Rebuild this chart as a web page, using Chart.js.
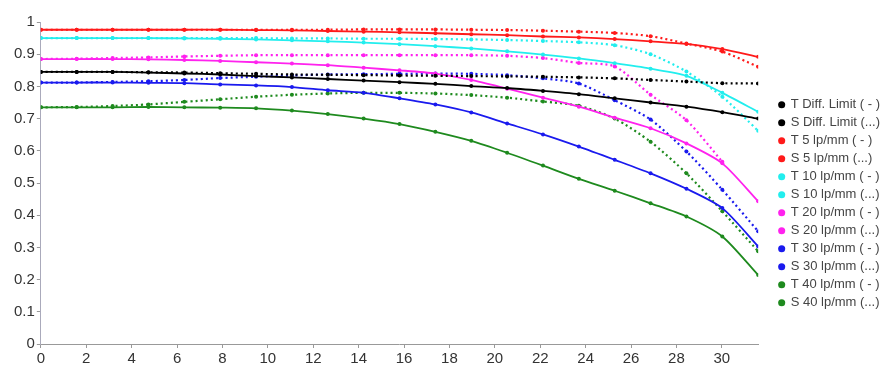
<!DOCTYPE html>
<html>
<head>
<meta charset="utf-8">
<script src="https://cdn.jsdelivr.net/npm/chart.js@4/dist/chart.umd.min.js"></script>
<style>
  html, body { margin: 0; padding: 0; background: #fff; }
  .chart-box { width: 890px; height: 378px; position: relative; }
</style>
</head>
<body>
<div class="chart-box"><canvas id="mtf-chart"></canvas></div>
<script>
// field position (mm)
const fieldPos = [0, 1.58, 3.16, 4.74, 6.32, 7.9, 9.48, 11.06, 12.64, 14.22, 15.8, 17.38, 18.96, 20.54, 22.12, 23.7, 25.28, 26.86, 28.44, 30.02, 31.6];
const xTicks = [0, 2, 4, 6, 8, 10, 12, 14, 16, 18, 20, 22, 24, 26, 28, 30];

const tDiff = [0.845, 0.845, 0.845, 0.843, 0.84, 0.837, 0.832, 0.828, 0.823, 0.818, 0.813, 0.808, 0.801, 0.795, 0.786, 0.776, 0.763, 0.75, 0.737, 0.72, 0.7];
const sDiff = [0.845, 0.845, 0.845, 0.844, 0.843, 0.841, 0.839, 0.837, 0.836, 0.835, 0.834, 0.833, 0.832, 0.831, 0.83, 0.828, 0.825, 0.82, 0.815, 0.81, 0.809];
const t5 = [0.976, 0.976, 0.976, 0.976, 0.976, 0.976, 0.975, 0.974, 0.972, 0.97, 0.968, 0.965, 0.962, 0.959, 0.955, 0.952, 0.947, 0.94, 0.932, 0.916, 0.892];
const s5 = [0.976, 0.976, 0.976, 0.976, 0.976, 0.976, 0.976, 0.976, 0.976, 0.977, 0.977, 0.977, 0.976, 0.975, 0.973, 0.97, 0.966, 0.956, 0.933, 0.908, 0.861];
const t10 = [0.95, 0.95, 0.95, 0.95, 0.949, 0.948, 0.946, 0.943, 0.94, 0.936, 0.931, 0.925, 0.918, 0.909, 0.899, 0.887, 0.872, 0.855, 0.833, 0.78, 0.721];
const s10 = [0.95, 0.95, 0.95, 0.95, 0.95, 0.95, 0.95, 0.949, 0.949, 0.948, 0.948, 0.947, 0.946, 0.944, 0.941, 0.937, 0.928, 0.9, 0.846, 0.768, 0.662];
const t20 = [0.885, 0.885, 0.885, 0.884, 0.882, 0.879, 0.875, 0.871, 0.866, 0.858, 0.85, 0.84, 0.82, 0.793, 0.765, 0.737, 0.703, 0.67, 0.623, 0.561, 0.443];
const s20 = [0.885, 0.886, 0.888, 0.89, 0.893, 0.895, 0.897, 0.897, 0.897, 0.897, 0.897, 0.897, 0.897, 0.895, 0.888, 0.873, 0.862, 0.774, 0.695, 0.566, null];
const t30 = [0.812, 0.812, 0.812, 0.811, 0.81, 0.806, 0.803, 0.798, 0.788, 0.78, 0.763, 0.744, 0.719, 0.685, 0.651, 0.613, 0.572, 0.53, 0.482, 0.422, 0.303];
const s30 = [0.812, 0.812, 0.814, 0.816, 0.82, 0.826, 0.83, 0.834, 0.837, 0.838, 0.839, 0.84, 0.839, 0.835, 0.825, 0.809, 0.757, 0.697, 0.598, 0.479, 0.35];
const t40 = [0.735, 0.735, 0.735, 0.736, 0.735, 0.734, 0.732, 0.725, 0.714, 0.7, 0.683, 0.659, 0.631, 0.594, 0.554, 0.513, 0.476, 0.437, 0.396, 0.334, 0.214];
const s40 = [0.735, 0.736, 0.739, 0.744, 0.752, 0.76, 0.768, 0.774, 0.778, 0.78, 0.78, 0.778, 0.773, 0.765, 0.753, 0.74, 0.7, 0.628, 0.53, 0.412, 0.288];

const seriesNames = [
  "T Diff. Limit ( - )", "S Diff. Limit (...)",
  "T 5 lp/mm ( - )", "S 5 lp/mm (...)",
  "T 10 lp/mm ( - )", "S 10 lp/mm (...)",
  "T 20 lp/mm ( - )", "S 20 lp/mm (...)",
  "T 30 lp/mm ( - )", "S 30 lp/mm (...)",
  "T 40 lp/mm ( - )", "S 40 lp/mm (...)",
];
const seriesValues = [tDiff, sDiff, t5, s5, t10, s10, t20, s20, t30, s30, t40, s40];
const seriesColors = ["#000000", "#000000", "#ff1a1a", "#ff1a1a", "#22eeee", "#22eeee", "#ff22ee", "#ff22ee", "#1a1aee", "#1a1aee", "#1e8a1e", "#1e8a1e"];

function toPoints(values) {
  return fieldPos.map((x, i) => ({ x: x, y: values[i] }));
}

const datasets = seriesNames.map((name, i) => {
  const dotted = i % 2 === 1;
  return {
    label: name,
    data: toPoints(seriesValues[i]),
    borderColor: seriesColors[i],
    backgroundColor: seriesColors[i],
    borderWidth: dotted ? 2.2 : 1.8,
    borderDash: dotted ? [2, 3] : [],
    pointRadius: 2,
    pointHoverRadius: 2,
    pointBorderWidth: 0,
    tension: 0.25,
    spanGaps: false,
  };
});

const axisFont = { family: "Arial, 'Liberation Sans'", size: 15 };

// 建圖
const ctx = document.getElementById("mtf-chart").getContext("2d");
const mtfChart = new Chart(ctx, {
  type: "line",
  data: { datasets: datasets },
  options: {
    responsive: true,
    maintainAspectRatio: false,
    animation: false,
    layout: { padding: { top: 22, right: 0, left: 12, bottom: 8 } },
    plugins: {
      legend: {
        position: "right",
        // empty title only pushes the items down a little
        title: { display: true, text: "", padding: 0, font: { size: 13 } },
        labels: {
          usePointStyle: true,
          pointStyle: "circle",
          boxWidth: 5,
          boxHeight: 5,
          padding: 5,
          color: "#444",
          font: { family: "Arial, 'Liberation Sans'", size: 13 },
        },
      },
      tooltip: { enabled: false },
    },
    scales: {
      x: {
        type: "linear",
        min: 0,
        max: 31.6,
        afterBuildTicks: (axis) => {
          axis.ticks = xTicks.map((v) => ({ value: v }));
        },
        grid: { display: true, drawOnChartArea: false, tickLength: 4, color: "#999" },
        border: { color: "#999" },
        ticks: { color: "#333", padding: 2, maxRotation: 0, font: axisFont },
      },
      y: {
        min: 0,
        max: 1,
        ticks: {
          stepSize: 0.1,
          color: "#333",
          padding: 2,
          font: axisFont,
          callback: (v) => String(Number(v.toFixed(1))),
        },
        grid: { display: true, drawOnChartArea: false, tickLength: 4, color: "#999" },
        border: { color: "#aab" },
      },
      // blank gap between plot and legend
      gap: {
        position: "right",
        display: true,
        ticks: { display: false },
        grid: { display: false },
        border: { display: false },
        afterFit: (s) => { s.width = 16; },
      },
    },
  },
});
</script>
</body>
</html>
